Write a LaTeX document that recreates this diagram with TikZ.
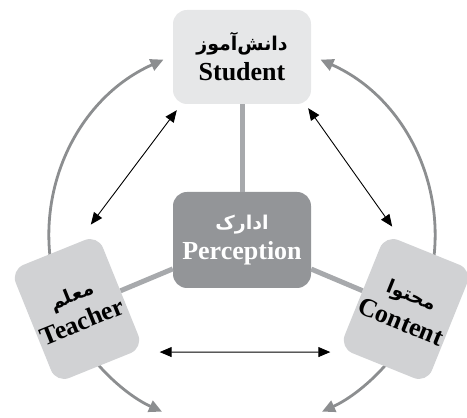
\documentclass[tikz,border=0pt]{standalone}
\usepackage{fontspec}
\setmainfont{Liberation Serif}
\newfontfamily\fa[Script=Arabic]{DejaVu Sans}
\TeXXeTstate=1
\usetikzlibrary{arrows.meta}
\definecolor{boxlight}{HTML}{E6E7E8}
\definecolor{boxmid}{HTML}{D1D2D4}
\definecolor{boxdark}{HTML}{939598}
\definecolor{spokegray}{HTML}{A7A9AC}
\definecolor{arcgray}{HTML}{8C8E90}
\newcommand{\faline}[1]{{\fa\bfseries\fontsize{19}{24}\selectfont\beginR #1\endR}}
\begin{document}
\begin{tikzpicture}[x=1pt,y=1pt,>={Triangle[length=12pt,width=10pt]},
    box/.style={rounded corners=14pt,align=center,inner sep=0pt,font=\bfseries\fontsize{26}{30}\selectfont},
    spoke/.style={line width=5pt,draw=spokegray},
    ring/.style={line width=2.8pt,draw=arcgray,-{Triangle[length=13pt,width=12pt]}},
    dbl/.style={<->,line width=0.9pt}]
    \useasboundingbox(0,0)rectangle(467,418);
    \coordinate(o)at(242,182);
    \draw[ring]([shift={(200:193)}]o)arc[start angle=200,end angle=114,radius=193];
    \draw[ring]([shift={(-20:193)}]o)arc[start angle=-20,end angle=66,radius=193];
    \draw[ring]([shift={(215:193)}]o)arc[start angle=215,end angle=245.5,radius=193];
    \draw[ring]([shift={(-35:193)}]o)arc[start angle=-35,end angle=-65.5,radius=193];
    \node[box,fill=boxlight,minimum width=138pt,minimum height=94pt](s)at(242,361){\faline{دانش^^^^200cآموز}\\Student};
    \node[box,fill=boxdark,text=white,minimum width=138pt,minimum height=96pt](p)at(242,178){\faline{ادارک}\\Perception};
    \node[box,fill=boxmid,minimum width=94pt,minimum height=122pt,rotate=22](t)at(77,109){\faline{معلم}\\Teacher};
    \node[box,fill=boxmid,minimum width=94pt,minimum height=122pt,rotate=-22](c)at(406,109){\faline{محتوا}\\Content};
    \draw[spoke](p)--(s);\draw[spoke](p)--(t);\draw[spoke](p)--(c);
    \draw[dbl]([shift={(-7,10)}]t.north east)--([shift={(4,-6)}]s.south west);
    \draw[dbl]([shift={(-3,-4)}]s.south east)--([shift={(7,8)}]c.north west);
    \draw[dbl]([shift={(16,-4)}]t.south east)--([shift={(-9,-4)}]c.south west);
\end{tikzpicture}
\end{document}
